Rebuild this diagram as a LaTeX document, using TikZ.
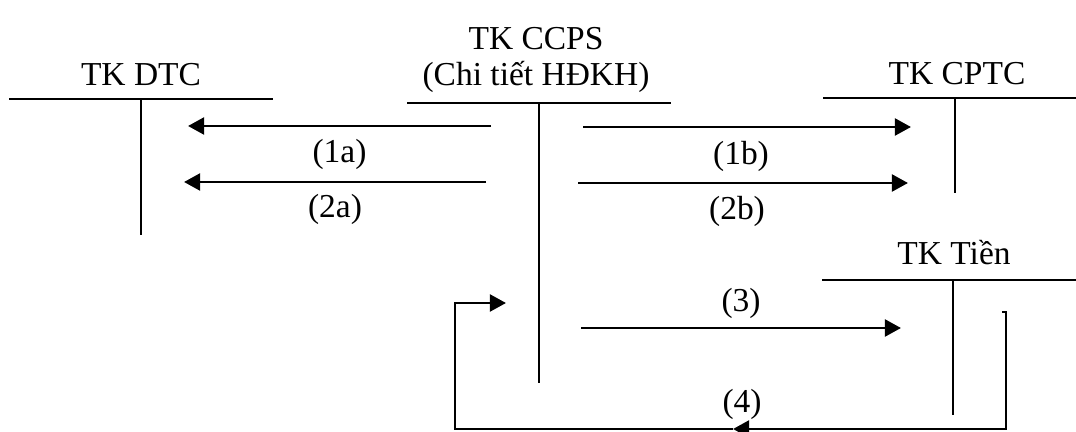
\documentclass[tikz,border=0pt]{standalone}
\usepackage{fontspec}
\setmainfont{Liberation Serif}
\usetikzlibrary{arrows.meta}

\tikzset{
  title/.style={font=\fontsize{23.8}{25.6}\selectfont, anchor=base, inner sep=0pt},
  lbl/.style={font=\fontsize{23.8}{25.6}\selectfont, inner sep=0pt},
  tline/.style={black, line width=1.4pt},
  flow/.style={black, line width=2.1pt, -{Triangle[length=11.5pt,width=12pt]}},
  wire/.style={black, line width=2.1pt}
}

\begin{document}
\begin{tikzpicture}[x=0.025cm, y=-0.025cm]
    \useasboundingbox (0,0) rectangle (1076,432);

    % Account titles
    \node[title] (dtc) at (141,86) {TK DTC};
    \node[title, align=center] (ccps) at (536,86) {TK CCPS\\(Chi tiết HĐKH)};
    \node[title] (cptc) at (957,85) {TK CPTC};
    \node[title] (tien) at (954,265) {TK Tiền};

    % T-accounts
    \draw[tline] (9,99) -- (273,99) (141,99) -- (141,235);     % TK DTC
    \draw[tline] (407,103) -- (671,103) (539,103) -- (539,383); % TK CCPS
    \draw[tline] (823,98) -- (1076,98) (955,98) -- (955,193);   % TK CPTC
    \draw[tline] (822,280) -- (1076,280) (953,280) -- (953,415); % TK Tien

    % Ends of the entries
    \coordinate (s1a) at (491,126); \coordinate (e1a) at (188,126);
    \coordinate (s2a) at (486,182); \coordinate (e2a) at (184,182);
    \coordinate (s1b) at (583,127); \coordinate (e1b) at (911,127);
    \coordinate (s2b) at (578,183); \coordinate (e2b) at (908,183);
    \coordinate (s3)  at (581,328); \coordinate (e3)  at (901,328);
    \coordinate (s4)  at (1002,312); \coordinate (m4) at (733,429);
    \coordinate (e4)  at (506,303);

    % Entries
    \draw[flow] (s1a) -- node[lbl, below=0.3cm] {(1a)} (e1a);
    \draw[flow] (s2a) -- node[lbl, below=0.28cm] {(2a)} (e2a);
    \draw[flow] (s1b) -- node[lbl, below=0.32cm, xshift=-0.15cm] {(1b)} (e1b);
    \draw[flow] (s2b) -- node[lbl, below=0.3cm, xshift=-0.15cm] {(2b)} (e2b);
    \draw[flow] (s3) -- node[lbl, above=0.2cm] {(3)} (e3);

    % Entry 4 runs back round the bottom
    \draw[flow] (s4) -- (1006,312) -- (1006,429) -- (m4);
    \draw[flow] (m4) -- (455,429) -- (455,303) -- (e4);
    \node[lbl, anchor=south] (l4) at (742,420) {(4)};
\end{tikzpicture}
\end{document}
